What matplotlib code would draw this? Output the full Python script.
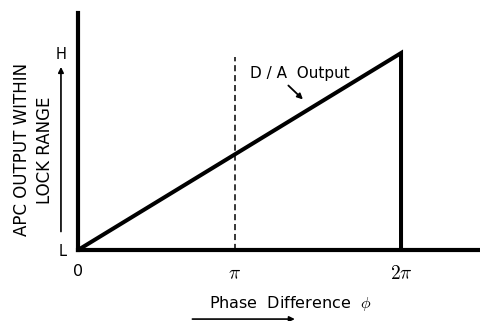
import numpy as np
import matplotlib
matplotlib.use('Agg')
import matplotlib.pyplot as plt

plt.rcParams['font.family'] = 'DejaVu Sans'
plt.rcParams['mathtext.fontset'] = 'cm'

# ramp: phase (2pi = 2) vs normalised APC output (L=0, H=1)
phase = [0.0, 2.0, 2.0]
output = [0.0, 1.0, 0.0]
# the sketch puts the pi mark a little left of centre
tick_pos = [0, 0.97, 2]
tick_labels = ['0', r'$\pi$', r'$2\pi$']
level_pos = [0, 1]
level_labels = ['L', 'H']

fig = plt.figure(figsize=(4.8, 3.21), dpi=100)
ax = fig.add_axes([0.1625, 0.2212, 0.8375, 0.738])

ax.plot(phase, output, color='black', lw=2.9, solid_joinstyle='miter')
ax.plot([tick_pos[1]] * 2, [0, 0.98], color='black', lw=1.1, ls=(0, (4, 2.5)))

ax.set_xlim(0, 2.489)
ax.set_ylim(0, 1.203)
for s in ['top', 'right']:
    ax.spines[s].set_visible(False)
for s in ['left', 'bottom']:
    ax.spines[s].set_linewidth(3.0)

ax.set_xticks(tick_pos)
ax.set_xticklabels(tick_labels, fontsize=14)
ax.get_xticklabels()[0].set_fontsize(11.5)
ax.set_yticks(level_pos)
ax.set_yticklabels(level_labels, fontsize=10.5)
ax.tick_params(axis='x', length=0, pad=10)
ax.tick_params(axis='y', length=0, pad=8)

ax.text(1.065, 0.875, 'D / A  Output', fontsize=11)
ax.annotate('', xy=(1.405, 0.755), xytext=(1.29, 0.845),
            arrowprops=dict(arrowstyle='-|>', color='black', lw=1.3, mutation_scale=8))

fig.text(0.069, 0.533, 'APC OUTPUT WITHIN\nLOCK RANGE', rotation=90,
         ha='center', va='center', fontsize=12, linespacing=1.35)
fig.add_artist(matplotlib.patches.FancyArrowPatch(
    (0.127, 0.27), (0.127, 0.80), transform=fig.transFigure,
    arrowstyle='-|>', mutation_scale=8, lw=1.2, color='black'))

fig.text(0.604, 0.056, r'Phase  Difference  $\phi$', ha='center', va='center', fontsize=11.5)
fig.add_artist(matplotlib.patches.FancyArrowPatch(
    (0.395, 0.006), (0.62, 0.006), transform=fig.transFigure,
    arrowstyle='-|>', mutation_scale=8, lw=1.2, color='black'))

fig.savefig('out.png', dpi=100)
